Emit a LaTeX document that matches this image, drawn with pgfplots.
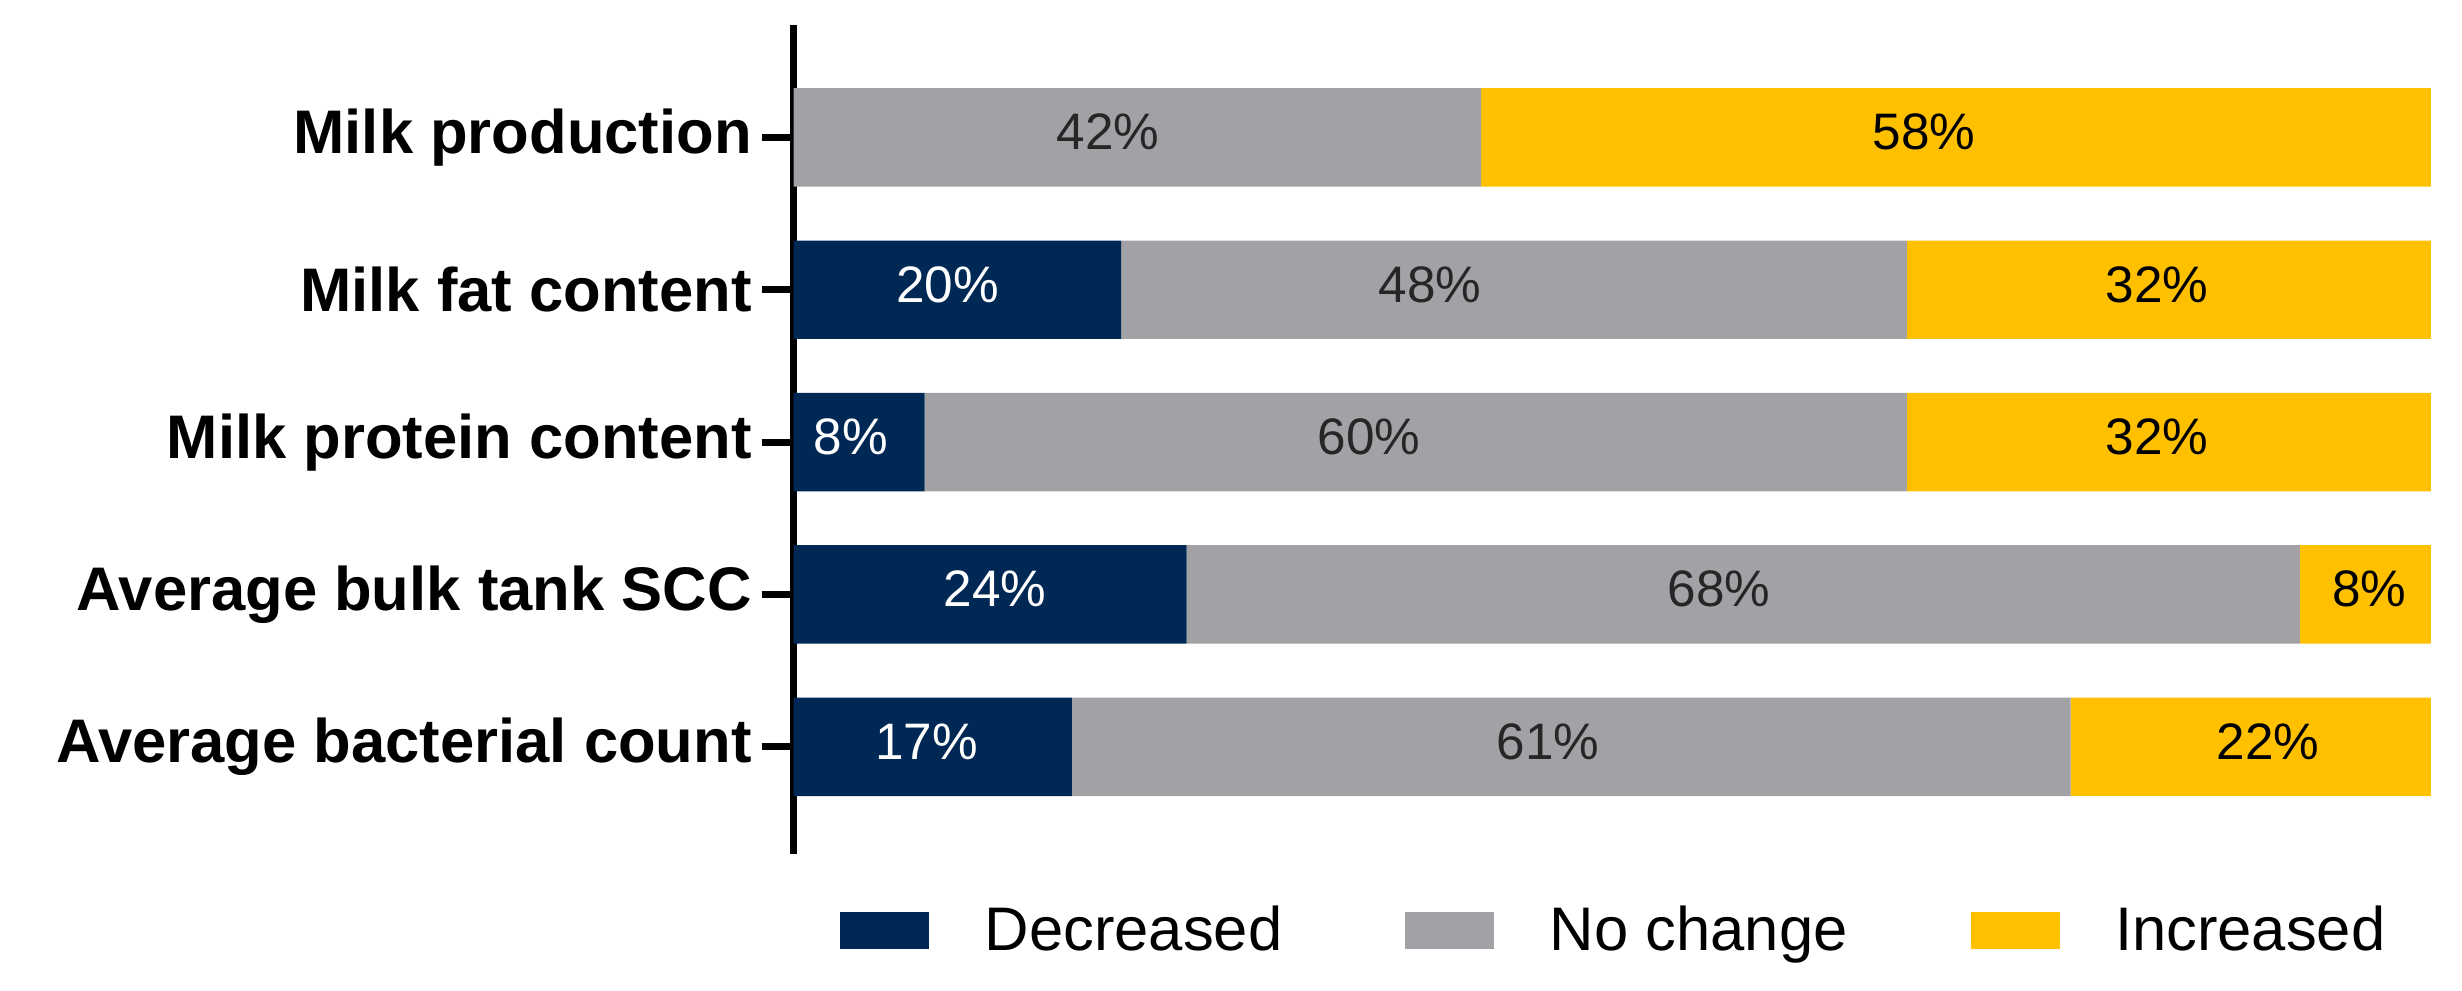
\documentclass[border=0pt]{standalone}
\usepackage{fontspec}
\setmainfont{Liberation Sans}
\usepackage{pgfplots}
\usepackage{pgfplotstable}
\pgfplotsset{compat=1.18}
\definecolor{navy}{HTML}{002855}
\definecolor{midgray}{HTML}{A2A2A6}
\definecolor{gold}{HTML}{FFC000}

% rows from bottom: bacterial count, bulk tank SCC, protein, fat, production
% dx = small horizontal nudge (pt) of the value label, as in the original
\pgfplotstableread{
y x label dx
0 17 17\% -1.5
1 24 24\% 1.2
2 8  8\%  -2.0
3 20 20\% -2.4
4 0  {}   0
}\decreased
\pgfplotstableread{
y x label dx
0 61 61\% -5.6
1 68 68\% -5.9
2 60 60\% -11.4
3 48 48\% -20.5
4 42 42\% -7.2
}\nochange
\pgfplotstableread{
y x label dx
0 22 22\% 4.2
1 8  8\%  1.0
2 32 32\% -2.9
3 32 32\% -2.9
4 58 58\% -7.8
}\increased

\begin{document}
\begin{tikzpicture}
\begin{axis}[
  at={(0,0)}, anchor=south west,
  scale only axis, width=399pt, height=202pt,
  xbar stacked, bar width=24pt,
  xmin=0, xmax=100, ymin=-0.70, ymax=4.74,
  axis x line=none, axis y line*=left,
  y axis line style={line width=1.8pt},
  ytick={0,...,4},
  yticklabels={Average bacterial count, Average bulk tank SCC, Milk protein content, Milk fat content, Milk production},
  ytick style={line width=1.7pt, black},
  tick align=outside, major tick length=7.6pt,
  yticklabel style={font=\bfseries\fontsize{15}{18}\selectfont, inner sep=0pt, xshift=-2.4pt},
  point meta=explicit symbolic,
  nodes near coords,
  visualization depends on={\thisrow{dx}\as\dx},
  % stacked bars: labels already sit in the middle of each segment
  every node near coord/.append style={anchor=center, xshift=\dx pt, yshift=1.3pt, font=\fontsize{12.5}{15}\selectfont},
  legend columns=3,
  legend style={draw=none, fill=none, at={(0.028,-0.094)}, anchor=west, inner sep=0pt,
    font=\fontsize{15}{18}\selectfont,
    /tikz/every odd column/.append style={column sep=13.5pt},
    /tikz/every even column/.append style={column sep=30pt},
    nodes={inner sep=0pt}, cells={anchor=base west}},
  legend image code/.code={\fill[#1] (0pt,0.4pt) rectangle (21.7pt,9.4pt);},
]
\addplot[fill=navy, draw=none, every node near coord/.append style={white}]
  table[x=x, y=y, meta=label] {\decreased};
\addplot[fill=midgray, draw=none, every node near coord/.append style={black!85}]
  table[x=x, y=y, meta=label] {\nochange};
\addplot[fill=gold, draw=none, every node near coord/.append style={black}]
  table[x=x, y=y, meta=label] {\increased};
\legend{Decreased, No change, Increased}
\end{axis}
\path (-193.4pt,-33.4pt) rectangle (406.6pt,208pt);
\end{tikzpicture}
\end{document}
